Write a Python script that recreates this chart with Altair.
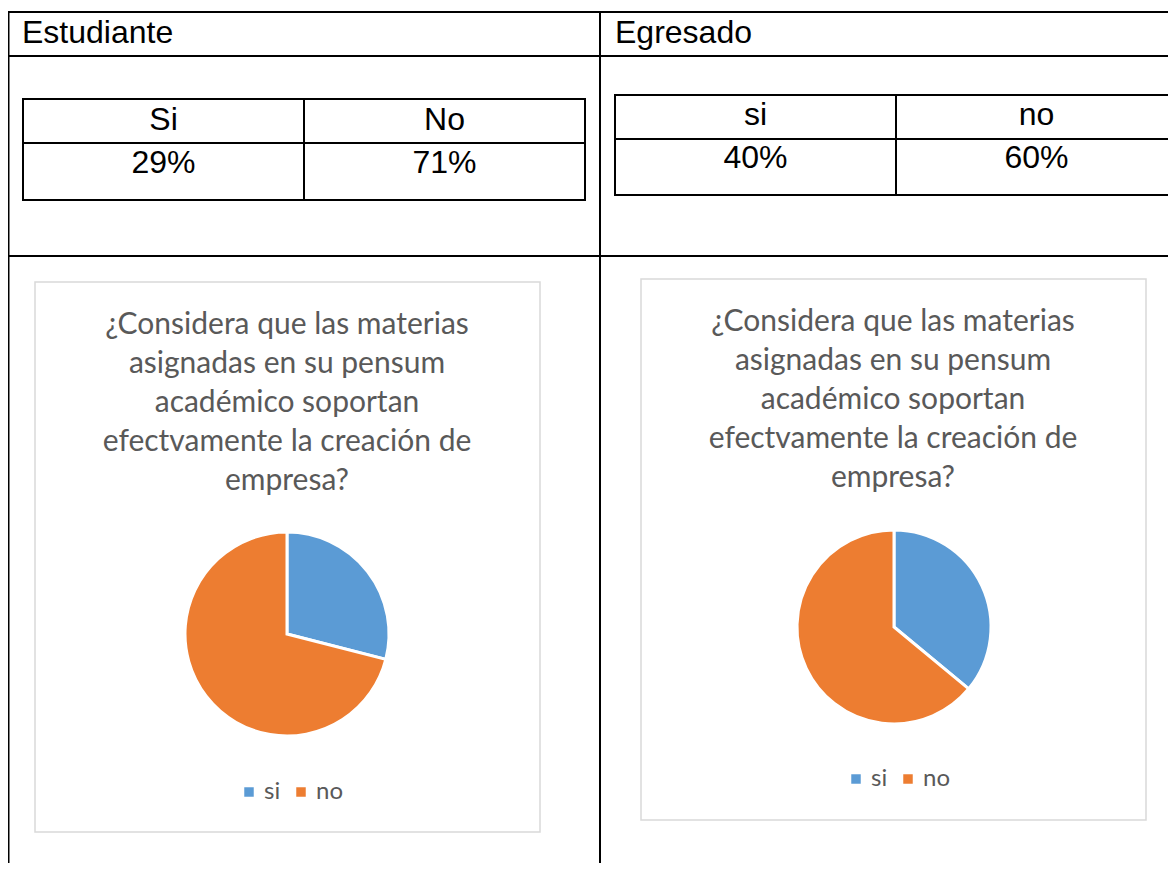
import altair as alt
import pandas as pd

# ---------------- data ----------------
categories = ["si", "no"]
section_labels = ["Estudiante", "Egresado"]
header_est = ["Si", "No"]
header_egr = ["si", "no"]
pct_est = [29, 71]
pct_egr = [40, 60]
pie_est = [29, 71]
pie_egr = [36, 64]
title_lines = [
    "¿Considera que las materias",
    "asignadas en su pensum",
    "académico soportan",
    "efectvamente la creación de",
    "empresa?",
]
colors = ["#5B9BD5", "#ED7D31"]

# ---------------- layout (image pixel coords; page margin 8px) ----------------
W, H = 1160, 855
OX, OY = 8, 8
TABLE_FONT = "Liberation Sans"
CHART_FONT = "Lato"
GRAY = "#595959"


def px(v):
    return v - OX


def py(v):
    return v - OY


one = pd.DataFrame({"a": [0]})


def hline(x1, x2, y, color="black", w=2):
    return alt.Chart(one).mark_rule(color=color, strokeWidth=w).encode(
        x=alt.value(px(x1)), x2=alt.value(px(x2)), y=alt.value(py(y))
    )


def vline(x, y1, y2, color="black", w=2):
    return alt.Chart(one).mark_rule(color=color, strokeWidth=w).encode(
        x=alt.value(px(x)), y=alt.value(py(y1)), y2=alt.value(py(y2))
    )


def box(x1, x2, y1, y2, color, w):
    return alt.Chart(one).mark_rect(fillOpacity=0, stroke=color, strokeWidth=w).encode(
        x=alt.value(px(x1)), x2=alt.value(px(x2)), y=alt.value(py(y1)), y2=alt.value(py(y2))
    )


def label(text, x, y, size, align="left", font=TABLE_FONT, color="black"):
    return alt.Chart(one).mark_text(
        text=text, fontSize=size, font=font, color=color, align=align, baseline="middle"
    ).encode(x=alt.value(px(x)), y=alt.value(py(y)))


def table_row(labels, x0, x1, y, size):
    df = pd.DataFrame({"cat": categories, "lab": labels})
    return alt.Chart(df).mark_text(
        fontSize=size, font=TABLE_FONT, color="black", baseline="middle", align="center"
    ).encode(
        x=alt.X(
            "cat:N",
            scale=alt.Scale(type="point", domain=categories, range=[px(x0), px(x1)], padding=0.5),
            axis=None,
        ),
        y=alt.value(py(y)),
        text="lab:N",
    )


def pie(values, cx, cy, r, lx, ly):
    df = pd.DataFrame({"cat": categories, "val": values, "ord": list(range(len(categories)))})
    return alt.Chart(df).mark_arc(outerRadius=r, stroke="white", strokeWidth=3).encode(
        theta=alt.Theta("val:Q", stack=True),
        order=alt.Order("ord:Q"),
        color=alt.Color(
            "cat:N",
            scale=alt.Scale(domain=categories, range=colors),
            legend=alt.Legend(
                orient="none",
                legendX=px(lx),
                legendY=py(ly),
                direction="horizontal",
                title=None,
                symbolType="square",
                symbolSize=90,
                symbolStrokeWidth=0,
                labelFont=CHART_FONT,
                labelFontSize=24,
                labelColor=GRAY,
                labelOffset=3,
                columnPadding=8,
            ),
        ),
        x=alt.value(px(cx)),
        y=alt.value(py(cy)),
    )


def title(cx, y_first):
    return alt.Chart(one).mark_text(
        text=title_lines, fontSize=30, font=CHART_FONT, color=GRAY, align="center",
        baseline="middle", lineHeight=39,
    ).encode(x=alt.value(px(cx)), y=alt.value(py(y_first)))


layers = [
    # outer table grid
    hline(7, 1180, 12),
    hline(7, 1180, 56),
    hline(7, 1180, 256),
    vline(8.5, 11, 880),
    vline(600, 11, 880),
    # left inner table
    box(23, 585, 99, 200, "black", 2),
    hline(23, 585, 143),
    vline(304, 99, 200),
    # right inner table
    box(615, 1190, 95, 195, "black", 2),
    hline(615, 1190, 139),
    vline(896, 95, 195),
    # section labels
    label(section_labels[0], 22, 33, 32),
    label(section_labels[1], 615, 33, 32),
    # table contents
    table_row(header_est, 23, 585, 120, 32),
    table_row([f"{v}%" for v in pct_est], 23, 585, 163, 32),
    table_row(header_egr, 615, 1177, 115, 32),
    table_row([f"{v}%" for v in pct_egr], 615, 1177, 158, 32),
    # chart frames
    box(35, 540, 282, 832, "#D9D9D9", 1.5),
    box(641, 1146, 279, 820, "#D9D9D9", 1.5),
    # chart titles
    title(287, 325),
    title(893, 322),
    # pies
    pie(pie_est, 287, 634, 102, 237, 780),
    pie(pie_egr, 894, 627, 97, 844, 767),
]

chart = (
    alt.layer(*layers)
    .resolve_scale(x="independent", color="independent", theta="independent")
    .properties(width=W, height=H, padding=0, autosize=alt.AutoSizeParams(type="none"))
    .configure_view(strokeWidth=0)
)

chart.save("out.html", embed_options={"renderer": "svg", "actions": False})
